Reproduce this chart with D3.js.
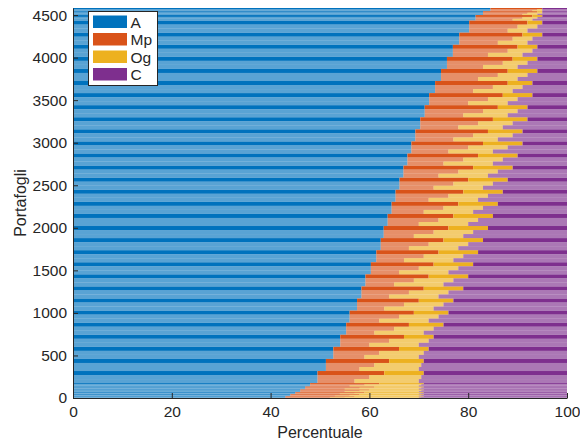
<!DOCTYPE html>
<html>
<head>
<meta charset="utf-8">
<script src="https://cdn.jsdelivr.net/npm/d3@7"></script>
<style>
  body { margin: 0; background: #fff; }
  svg text { font-family: "Liberation Sans", Arial, Helvetica, sans-serif; fill: #262626; }
</style>
</head>
<body>
<div id="chart"></div>
<script>
// series names and colours (MATLAB default order)
var series = ["A", "Mp", "Og", "C"];
var colors = ["#0072BD", "#D95319", "#EDB120", "#7E2F8E"];

// portfolio index where each block of portfolios starts (bottom -> top)
var groupStart = [0, 20, 45, 70, 100, 135, 175, 317, 459, 601, 743, 885, 1027, 1169, 1311, 1453,
    1595, 1737, 1879, 2021, 2163, 2305, 2447, 2589, 2731, 2873, 3015, 3157, 3299, 3441, 3583,
    3725, 3867, 4009, 4151, 4293, 4435, 4500, 4545];
var nPortfolios = 4583;

// share of A in each block
var shareA = [43, 44, 45, 46, 47, 48, 49.5, 51.2, 52.7, 54.1, 55.3, 56.0, 57.5, 58.4, 59.2, 60.3,
    61.4, 62.3, 62.9, 63.7, 64.5, 65.3, 66.1, 66.9, 67.7, 68.5, 69.3, 70.3, 71.2, 72.1, 73.3,
    74.5, 75.7, 76.9, 78.2, 80.2, 81.5, 83, 84.5];

// Mp share: lower, middle and upper part of each block
var mpLow = [9, 9, 9, 9, 8, 8, 7.5, 6.8, 6.3, 5.9, 5.7, 6, 5.5, 5.6, 5.8, 5.7,
    5.6, 5.7, 6.1, 6.3, 6.5, 6.7, 6.9, 7.1, 7.3, 7.5, 7.7, 7.7, 7.8, 7.9, 7.7,
    7.5, 7.3, 7.1, 7.8, 7.8, 7.5, 8, 8.5];
var mpMid = [12, 12, 12, 12, 11, 11, 10.5, 9.8, 9.3, 9.9, 9.7, 10, 9.5, 9.6, 9.8, 9.7,
    9.6, 9.7, 10.1, 10.3, 10.5, 10.7, 10.9, 11.1, 11.3, 11.5, 11.7, 11.7, 11.8, 11.9, 11.7,
    11.5, 11.3, 11.1, 10.8, 9.8, 9.5, 9, 9.5];
var mpTop = [14, 14, 14, 14, 14, 14, 13.5, 12.8, 13.3, 12.9, 12.7, 13, 12.5, 12.6, 12.8, 12.7,
    12.6, 12.7, 13.1, 13.3, 13.5, 13.7, 13.9, 14.1, 14.3, 14.5, 14.7, 14.7, 14.8, 14.9, 14.7,
    13.5, 13.3, 13.1, 12.8, 11.8, 11.5, 11, 10.5];

// Og share: lower, middle and upper part of each block
var ogLow = [18, 17, 16, 15, 15, 14, 13, 12, 11, 10, 10, 10, 10, 10, 10, 10,
    10, 10, 10, 10, 10, 10, 10, 10, 10, 9, 9, 9, 9, 8, 8,
    8, 7, 7, 6, 4, 4, 3, 2];
var ogMid = [15.5, 14.5, 13.5, 12.5, 12.5, 11.5, 10.5, 9.5, 9, 8, 8, 8, 8, 8, 8, 8,
    8, 8, 8, 8, 8, 8, 8, 8, 8, 8, 8, 7, 7, 6, 6,
    6, 5, 5, 4, 4, 3, 3, 1];
var ogTop = [14, 13, 12, 11, 10, 9, 8, 7, 6, 6, 7, 7, 7, 8, 8, 8,
    8, 8, 8, 8, 8, 8, 8, 8, 8, 8, 7, 7, 6, 6, 5,
    6, 5, 4, 4, 3, 2, 1, 0];

var yTicks = [0, 500, 1000, 1500, 2000, 2500, 3000, 3500, 4000, 4500];
var xTicks = [0, 20, 40, 60, 80, 100];

function render_chart() {
    var svg = d3.select("#chart").append("svg").attr("width", 580).attr("height", 443),
        margin = {top: 8, right: 13, bottom: 45, left: 73},
        width = +svg.attr("width") - margin.left - margin.right,
        height = +svg.attr("height") - margin.top - margin.bottom;

    var x = d3.scaleLinear().domain([0, 100]).range([0, width]);
    var y = d3.scaleLinear().domain([0, nPortfolios]).range([height, 0]);

    // one row per part of a block; the upper part is drawn dark, the rest light
    var mps = [mpLow, mpMid, mpTop], ogs = [ogLow, ogMid, ogTop];
    var rows = [];
    groupStart.forEach(function(s, i) {
        var e = i + 1 < groupStart.length ? groupStart[i + 1] : nPortfolios;
        for (var k = 0; k < 3; k++) {
            var a = shareA[i], mp = mps[k][i], og = ogs[k][i];
            rows.push({p0: s + (e - s) * k / 3, p1: s + (e - s) * (k + 1) / 3,
                A: a, Mp: mp, Og: og, C: 100 - a - mp - og, dark: k === 2});
        }
    });

    var stacked = d3.stack().keys(series)(rows);

    var g = svg.append("g")
        .attr("transform", "translate(" + margin.left + "," + margin.top + ")");

    g.selectAll(".serie")
        .data(stacked)
        .enter().append("g")
        .attr("class", "serie")
        .attr("fill", function(d, i) { return colors[i]; })
        .selectAll("rect")
        .data(function(d) { return d; })
        .enter().append("rect")
        .attr("x", function(d) { return x(d[0]); })
        .attr("width", function(d) { return x(d[1]) - x(d[0]); })
        .attr("y", function(d) { return y(d.data.p1); })
        .attr("height", function(d) { return y(d.data.p0) - y(d.data.p1); })
        .attr("fill-opacity", function(d) { return d.data.dark ? 1 : 0.65; });

    var fmt = d3.format("d");
    var xAxis = g.append("g")
        .attr("transform", "translate(0," + height + ")")
        .call(d3.axisBottom(x).tickValues(xTicks).tickFormat(fmt).tickSizeInner(-5).tickSizeOuter(0).tickPadding(8));
    var yAxis = g.append("g")
        .call(d3.axisLeft(y).tickValues(yTicks).tickFormat(fmt).tickSizeInner(-5).tickSizeOuter(0).tickPadding(6));

    [xAxis, yAxis].forEach(function(ax) {
        ax.select(".domain").attr("stroke", "#262626");
        ax.selectAll(".tick line").attr("stroke", "#262626");
        ax.selectAll("text").style("font-size", "15.5px").attr("fill", "#262626");
    });

    svg.append("text")
        .attr("x", margin.left + width / 2).attr("y", 438)
        .attr("text-anchor", "middle").style("font-size", "16px")
        .text("Percentuale");
    svg.append("text")
        .attr("transform", "translate(26," + (margin.top + height / 2) + ") rotate(-90)")
        .attr("text-anchor", "middle").style("font-size", "16px")
        .text("Portafogli");

    // legend
    var legend = svg.append("g").attr("transform", "translate(88.5,11.5)");
    legend.append("rect").attr("width", 69).attr("height", 74)
        .attr("fill", "#fff").attr("stroke", "#262626").attr("stroke-width", 1);
    series.forEach(function(s, i) {
        legend.append("rect")
            .attr("x", 4.5).attr("y", 4 + i * 17.5)
            .attr("width", 34).attr("height", 12.5)
            .attr("fill", colors[i]);
        legend.append("text")
            .attr("x", 42).attr("y", 10.5 + i * 17.5)
            .attr("dy", "0.36em").style("font-size", "15.5px")
            .text(s);
    });
}

render_chart();
</script>
</body>
</html>
